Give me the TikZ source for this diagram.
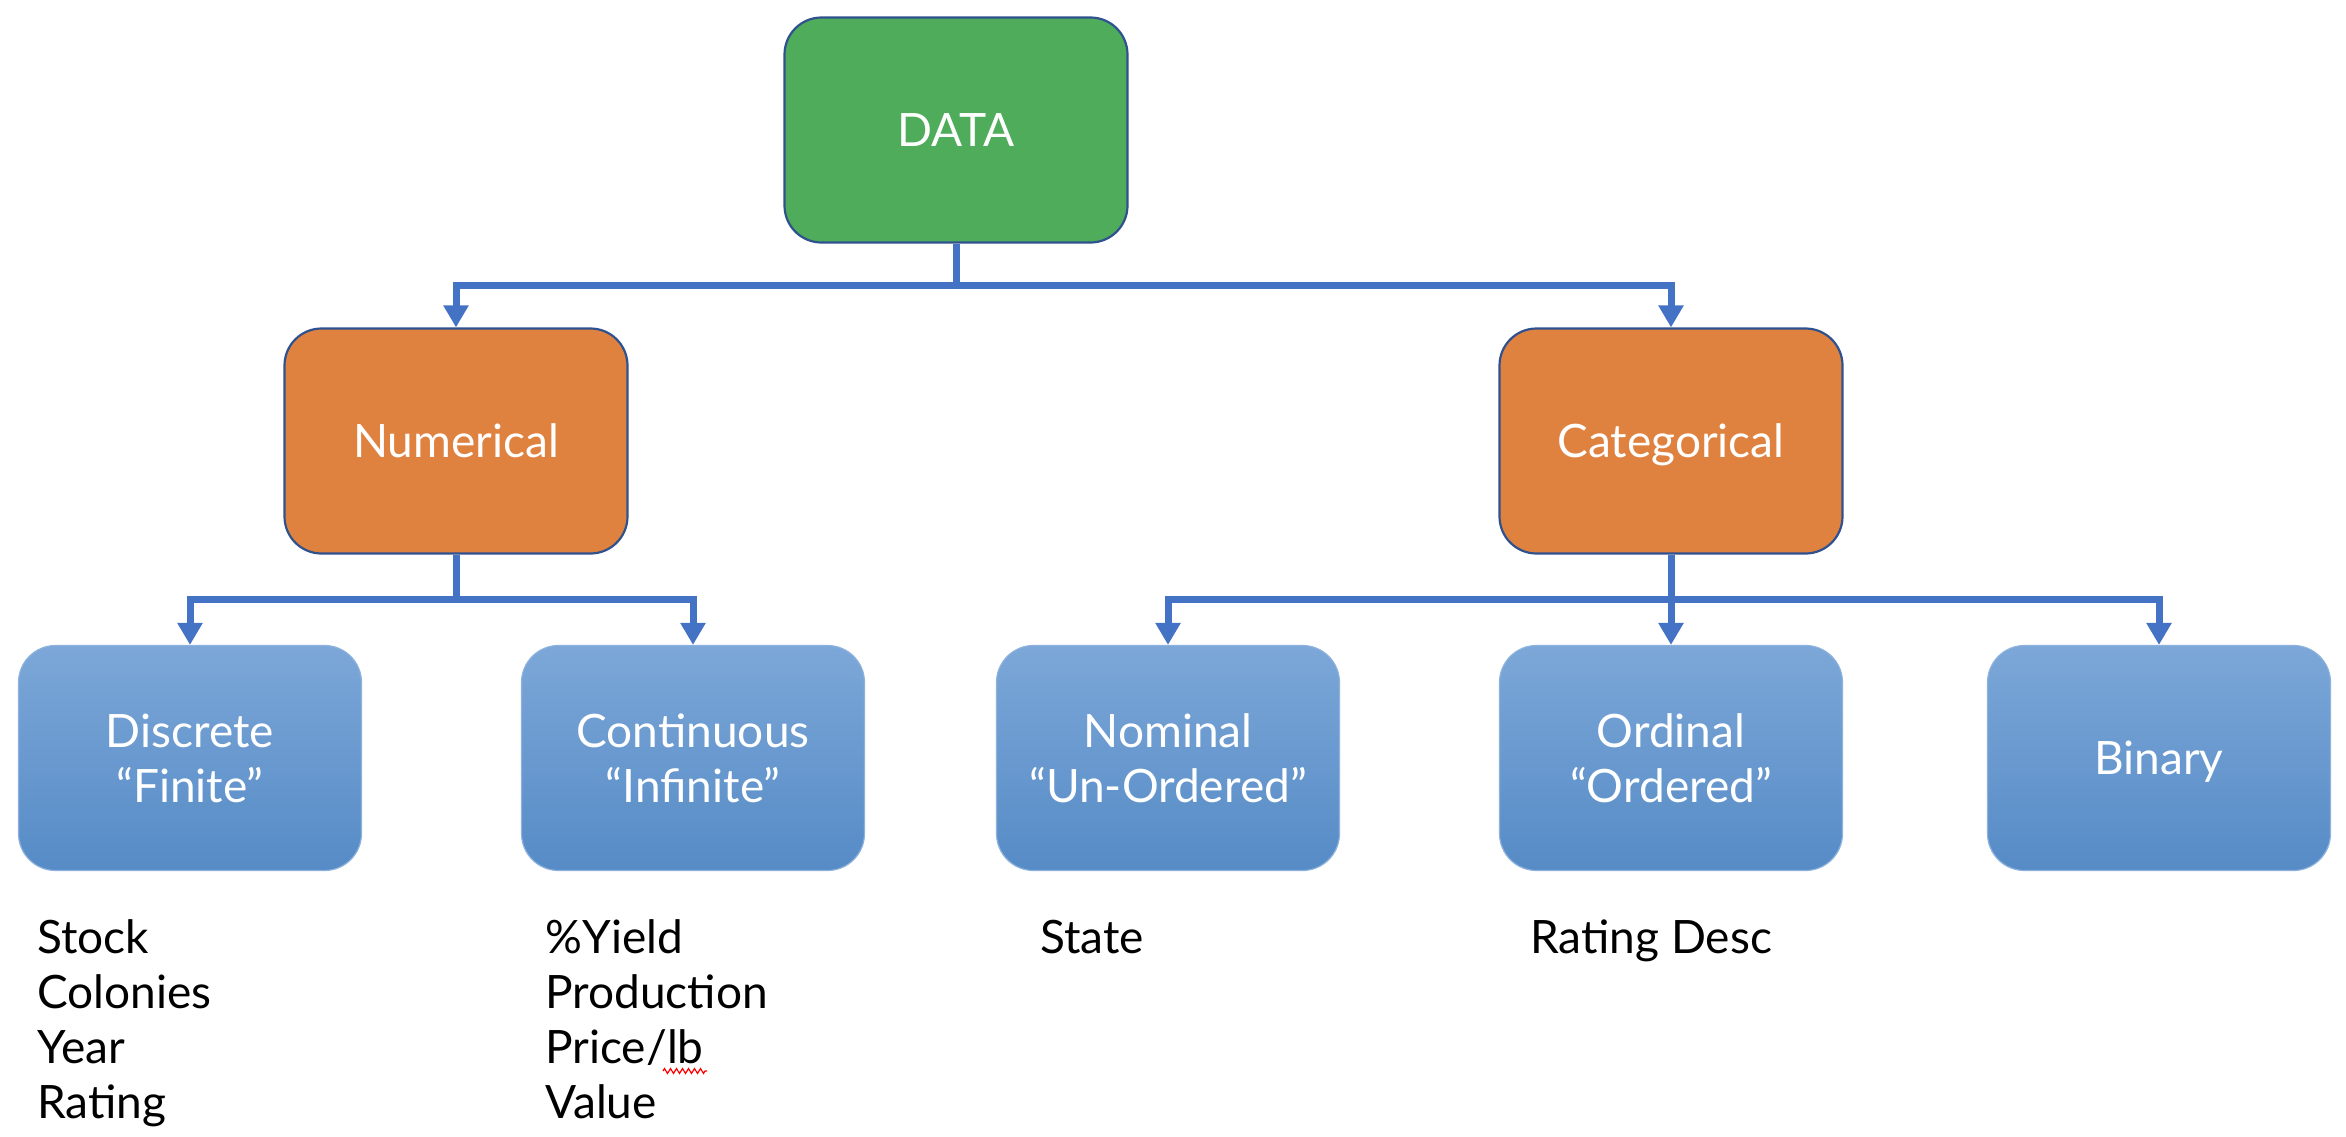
\documentclass[tikz,border=0pt]{standalone}
\usepackage{fontspec}
\setmainfont{Lato}
\usetikzlibrary{arrows.meta,decorations.pathmorphing,calc}
\definecolor{connblue}{HTML}{4472C4}
\definecolor{boxgreen}{HTML}{4EAC5B}
\definecolor{boxorange}{HTML}{E0823F}
\definecolor{edgeblue}{HTML}{2F528F}
\definecolor{bluetop}{HTML}{7CA7D8}
\definecolor{bluebot}{HTML}{568BC6}
\definecolor{blueedge}{HTML}{8DB2DE}
\tikzset{
  box/.style={rounded corners=18.5pt, minimum width=171.5pt, minimum height=112.5pt,
    inner sep=0pt, align=center, text=white, font=\fontsize{23}{27.5}\selectfont},
  oneline/.style={text height=16.5pt, text depth=0pt},
  topbox/.style={box, oneline, fill=boxgreen, draw=edgeblue, line width=1.1pt},
  midbox/.style={box, oneline, fill=boxorange, draw=edgeblue, line width=1.1pt},
  leafbox/.style={box, top color=bluetop, bottom color=bluebot, draw=blueedge, line width=0.6pt},
  conn/.style={draw=connblue, line width=3.5pt, line join=miter, -{Triangle[width=12pt,length=11pt]}},
  plainconn/.style={draw=connblue, line width=3.5pt, line join=miter},
  item/.style={anchor=base west, inner sep=0pt, font=\fontsize{23}{27.5}\selectfont}
}
\begin{document}
\begin{tikzpicture}[x=0.5pt,y=-0.5pt]
\useasboundingbox (0,0) rectangle (2346,1136);
\node[topbox] (data) at (956,130) {DATA};
\node[midbox] (num) at (456,441) {Numerical};
\node[midbox] (cat) at (1671,441) {Categorical};
\node[leafbox] (disc) at (190,758) {Discrete\\“Finite”};
\node[leafbox] (cont) at (693,758) {Continuous\\“Infinite”};
\node[leafbox] (nom) at (1168,758) {Nominal\\“Un-Ordered”};
\node[leafbox] (ord) at (1671,758) {Ordinal\\“Ordered”};
\node[leafbox, oneline] (bin) at (2159,758) {Binary};
% connectors
\coordinate (dj) at ($(data.south)+(0,42)$);
\draw[plainconn] (data.south) -- (dj);
\draw[conn] (dj) -| (num.north);
\draw[conn] (dj) -| (cat.north);
\coordinate (nj) at ($(num.south)+(0,45)$);
\draw[plainconn] (num.south) -- (nj);
\draw[conn] (nj) -| (disc.north);
\draw[conn] (nj) -| (cont.north);
\coordinate (cj) at ($(cat.south)+(0,45)$);
\draw[conn] (cat.south) -- (ord.north);
\draw[conn] (cj) -| (nom.north);
\draw[conn] (cj) -| (bin.north);
% lists
\node[item] (s1) at (37,953) {Stock};
\node[item] (s2) at (37,1008) {Colonies};
\node[item] (s3) at (37,1063) {Year};
\node[item] (s4) at (37,1118) {Rating};
\node[item] (p1) at (545,953) {\%Yield};
\node[item] (p2) at (545,1008) {Production};
\node[item] (p3) at (545,1063) {Price/lb};
\node[item] (p4) at (545,1118) {Value};
\node[item] (n1) at (1040,953) {State};
\node[item] (o1) at (1530,953) {Rating Desc};
\draw[red, line width=0.6pt, decorate, decoration={zigzag, amplitude=1.2pt, segment length=3pt}] (663,1071) -- (707,1071);
\end{tikzpicture}
\end{document}
